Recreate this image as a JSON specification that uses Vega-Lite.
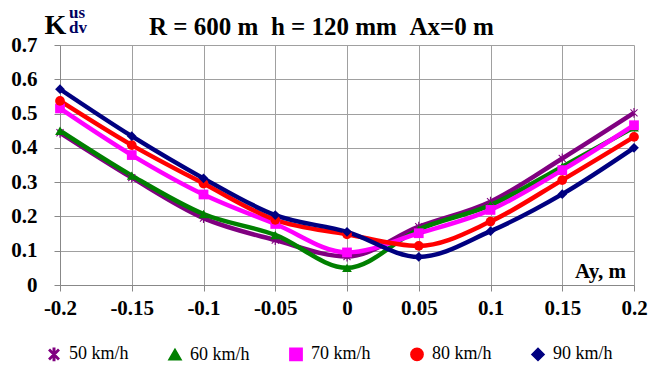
{
  "$schema": "https://vega.github.io/schema/vega-lite/v6.json",
  "width": 574,
  "height": 240,
  "autosize": {"type": "none"},
  "padding": {"left": 60, "top": 45, "right": 17, "bottom": 83},
  "background": "white",
  "title": {
    "text": "R = 600 m\u00a0\u00a0h = 120 mm\u00a0\u00a0Ax=0 m",
    "anchor": "start",
    "frame": "group",
    "dx": 89,
    "offset": -36,
    "font": "Liberation Serif",
    "fontSize": 25,
    "fontWeight": "bold",
    "color": "#000000"
  },
  "config": {
    "view": {"stroke": null}
  },
  "resolve": {"axis": {"x": "independent", "y": "independent"}},
  "data": {
    "values": [
      {"ay": -0.2, "k": 0.444, "speed": "50 km/h"},
      {"ay": -0.15, "k": 0.313, "speed": "50 km/h"},
      {"ay": -0.1, "k": 0.195, "speed": "50 km/h"},
      {"ay": -0.05, "k": 0.131, "speed": "50 km/h"},
      {"ay": 0, "k": 0.083, "speed": "50 km/h"},
      {"ay": 0.05, "k": 0.17, "speed": "50 km/h"},
      {"ay": 0.1, "k": 0.243, "speed": "50 km/h"},
      {"ay": 0.15, "k": 0.369, "speed": "50 km/h"},
      {"ay": 0.2, "k": 0.502, "speed": "50 km/h"},
      {"ay": -0.2, "k": 0.45, "speed": "60 km/h"},
      {"ay": -0.15, "k": 0.319, "speed": "60 km/h"},
      {"ay": -0.1, "k": 0.207, "speed": "60 km/h"},
      {"ay": -0.05, "k": 0.146, "speed": "60 km/h"},
      {"ay": 0, "k": 0.05, "speed": "60 km/h"},
      {"ay": 0.05, "k": 0.162, "speed": "60 km/h"},
      {"ay": 0.1, "k": 0.233, "speed": "60 km/h"},
      {"ay": 0.15, "k": 0.345, "speed": "60 km/h"},
      {"ay": 0.2, "k": 0.46, "speed": "60 km/h"},
      {"ay": -0.2, "k": 0.515, "speed": "70 km/h"},
      {"ay": -0.15, "k": 0.379, "speed": "70 km/h"},
      {"ay": -0.1, "k": 0.264, "speed": "70 km/h"},
      {"ay": -0.05, "k": 0.178, "speed": "70 km/h"},
      {"ay": 0, "k": 0.095, "speed": "70 km/h"},
      {"ay": 0.05, "k": 0.151, "speed": "70 km/h"},
      {"ay": 0.1, "k": 0.219, "speed": "70 km/h"},
      {"ay": 0.15, "k": 0.335, "speed": "70 km/h"},
      {"ay": 0.2, "k": 0.466, "speed": "70 km/h"},
      {"ay": -0.2, "k": 0.537, "speed": "80 km/h"},
      {"ay": -0.15, "k": 0.408, "speed": "80 km/h"},
      {"ay": -0.1, "k": 0.296, "speed": "80 km/h"},
      {"ay": -0.05, "k": 0.19, "speed": "80 km/h"},
      {"ay": 0, "k": 0.148, "speed": "80 km/h"},
      {"ay": 0.05, "k": 0.114, "speed": "80 km/h"},
      {"ay": 0.1, "k": 0.185, "speed": "80 km/h"},
      {"ay": 0.15, "k": 0.306, "speed": "80 km/h"},
      {"ay": 0.2, "k": 0.432, "speed": "80 km/h"},
      {"ay": -0.2, "k": 0.571, "speed": "90 km/h"},
      {"ay": -0.15, "k": 0.434, "speed": "90 km/h"},
      {"ay": -0.1, "k": 0.311, "speed": "90 km/h"},
      {"ay": -0.05, "k": 0.204, "speed": "90 km/h"},
      {"ay": 0, "k": 0.155, "speed": "90 km/h"},
      {"ay": 0.05, "k": 0.082, "speed": "90 km/h"},
      {"ay": 0.1, "k": 0.157, "speed": "90 km/h"},
      {"ay": 0.15, "k": 0.265, "speed": "90 km/h"},
      {"ay": 0.2, "k": 0.4, "speed": "90 km/h"}
    ]
  },
  "layer": [
    {
      "mark": {"type": "line", "interpolate": "monotone", "strokeWidth": 4.5},
      "encoding": {
        "x": {
          "field": "ay", "type": "quantitative",
          "scale": {"domain": [-0.2, 0.2], "nice": false, "zero": false},
          "axis": {
            "values": [-0.2, -0.15, -0.1, -0.05, 0, 0.05, 0.1, 0.15, 0.2],
            "labelExpr": "replace(format(datum.value, '~f'), '\u2212', '-')",
            "labelFont": "Liberation Serif", "labelFontSize": 21, "labelFontWeight": "bold",
            "labelColor": "#000000", "labelOverlap": false, "labelFlush": false, "labelPadding": 6,
            "tickSize": 6, "tickColor": "#888888", "domainColor": "#888888",
            "grid": true, "gridColor": "#a0a0a0", "gridWidth": 1,
            "title": "Ay, m", "titleFont": "Liberation Serif", "titleFontWeight": "bold", "titleColor": "#000000",
            "titleFontSize": 21,
            "titleX": 540, "titleY": -8, "titleAlign": "center", "titleBaseline": "alphabetic"
          }
        },
        "y": {
          "field": "k", "type": "quantitative",
          "scale": {"domain": [0, 0.7], "nice": false},
          "axis": {
            "values": [0, 0.1, 0.2, 0.3, 0.4, 0.5, 0.6, 0.7],
            "format": "~f",
            "labelFont": "Liberation Serif", "labelFontSize": 21, "labelFontWeight": "bold",
            "labelColor": "#000000", "labelOverlap": false, "labelFlush": false, "labelPadding": 17,
            "tickSize": 6, "tickColor": "#888888", "domainColor": "#888888",
            "grid": true, "gridColor": "#a0a0a0", "gridWidth": 1,
            "title": "K", "titleFont": "Liberation Serif", "titleFontWeight": "bold", "titleColor": "#000000",
            "titleFontSize": 28,
            "titleAngle": 0, "titleX": -16, "titleY": -12, "titleAlign": "left", "titleBaseline": "alphabetic"
          }
        },
        "color": {
          "field": "speed", "type": "nominal",
          "scale": {"domain": ["50 km/h", "60 km/h", "70 km/h", "80 km/h", "90 km/h"],
                    "range": ["#800080", "#008000", "#ff00ff", "#ff0000", "#000080"]},
          "legend": {"title": null, "orient": "none", "legendX": -15, "legendY": 300, "direction": "horizontal",
                     "symbolSize": 150, "labelOffset": 6, "columnPadding": 36,
                     "labelFont": "Liberation Serif", "labelFontSize": 18, "labelColor": "#000000"}
        }
      }
    },
    {
      "mark": {"type": "point", "filled": true, "opacity": 1, "size": 95},
      "encoding": {
        "x": {"field": "ay", "type": "quantitative", "axis": null, "scale": {"domain": [-0.2, 0.2], "nice": false, "zero": false}},
        "y": {"field": "k", "type": "quantitative", "axis": null, "scale": {"domain": [0, 0.7], "nice": false}},
        "color": {
          "field": "speed", "type": "nominal",
          "legend": {"title": null, "orient": "none", "legendX": -15, "legendY": 300, "direction": "horizontal",
                     "symbolSize": 150, "labelOffset": 6, "columnPadding": 36,
                     "labelFont": "Liberation Serif", "labelFontSize": 18, "labelColor": "#000000"}
        },
        "shape": {
          "field": "speed", "type": "nominal",
          "scale": {"domain": ["50 km/h", "60 km/h", "70 km/h", "80 km/h", "90 km/h"],
                    "range": ["M-0.8,-0.65L0.65,0.8L0.8,0.65L-0.65,-0.8Z M0.65,-0.8L0.8,-0.65L-0.65,0.8L-0.8,0.65Z M-0.12,-1H0.12V1H-0.12Z", "triangle-up", "square", "circle", "diamond"]},
          "legend": {"title": null, "orient": "none", "legendX": -15, "legendY": 300, "direction": "horizontal",
                     "symbolSize": 150, "labelOffset": 6, "columnPadding": 36,
                     "labelFont": "Liberation Serif", "labelFontSize": 18, "labelColor": "#000000"}
        }
      }
    },
    {
      "data": {"values": [{"t": "us"}]},
      "mark": {"type": "text", "align": "left", "baseline": "alphabetic", "dx": 9,
               "font": "Liberation Serif", "fontSize": 17, "fontWeight": "bold", "color": "#000060"},
      "encoding": {
        "text": {"field": "t", "type": "nominal"},
        "x": {"datum": -0.2, "type": "quantitative", "axis": null, "scale": {"domain": [-0.2, 0.2], "nice": false, "zero": false}},
        "y": {"datum": 0.778, "type": "quantitative", "axis": null, "scale": {"domain": [0, 0.7], "nice": false}}
      }
    },
    {
      "data": {"values": [{"t": "dv"}]},
      "mark": {"type": "text", "align": "left", "baseline": "alphabetic", "dx": 9,
               "font": "Liberation Serif", "fontSize": 17, "fontWeight": "bold", "color": "#000060"},
      "encoding": {
        "text": {"field": "t", "type": "nominal"},
        "x": {"datum": -0.2, "type": "quantitative", "axis": null, "scale": {"domain": [-0.2, 0.2], "nice": false, "zero": false}},
        "y": {"datum": 0.735, "type": "quantitative", "axis": null, "scale": {"domain": [0, 0.7], "nice": false}}
      }
    }
  ]
}
